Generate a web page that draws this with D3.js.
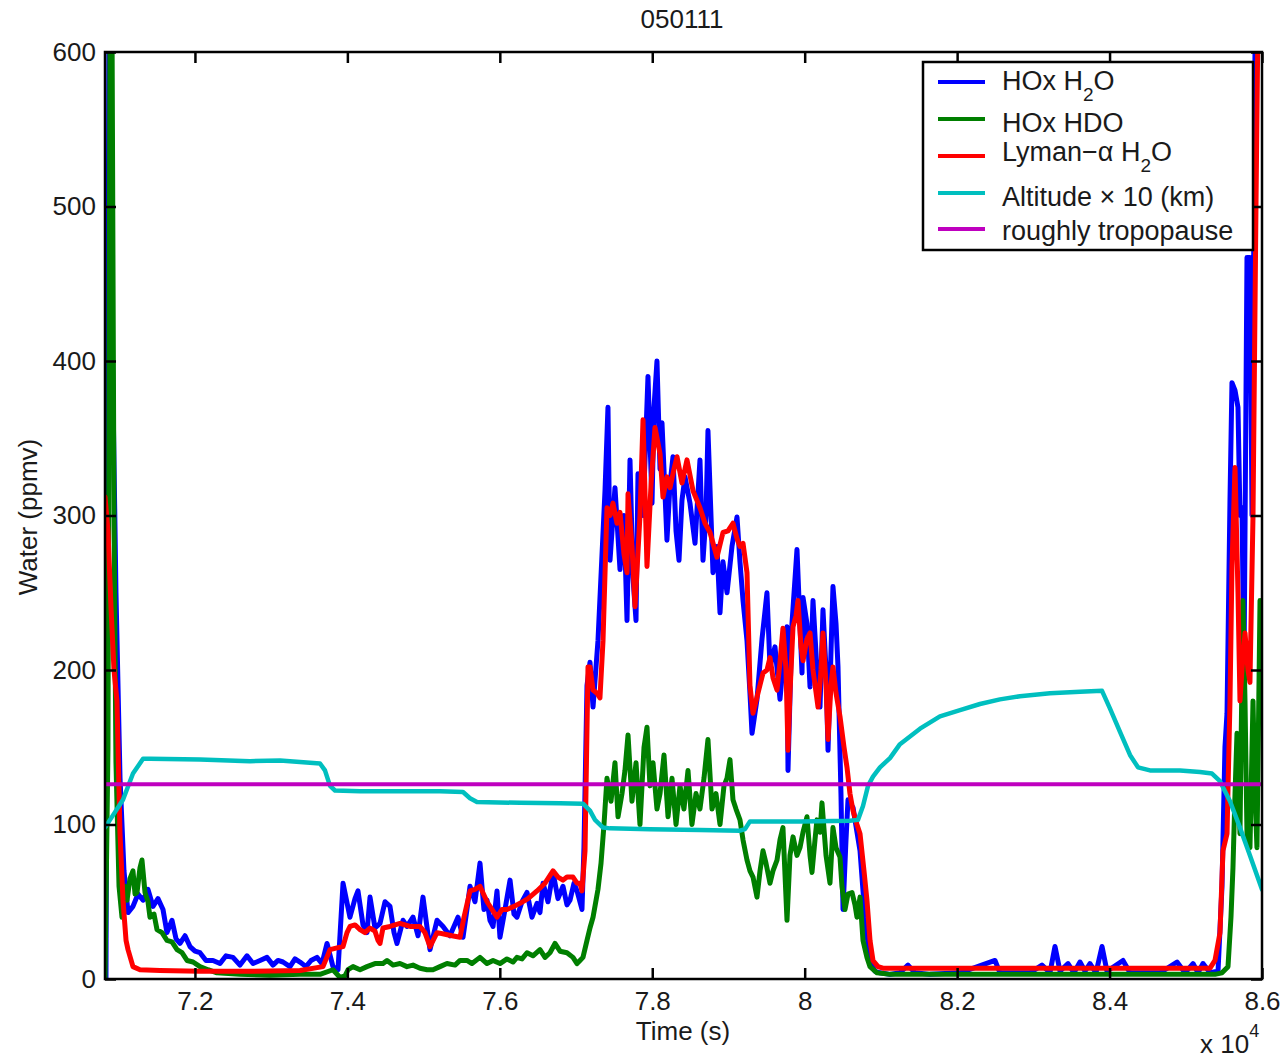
<!DOCTYPE html>
<html><head><meta charset="utf-8">
<script src="https://cdn.jsdelivr.net/npm/d3@7"></script>
<style>
body{margin:0;background:#fff;}
text{font-family:'Liberation Sans',Arial,sans-serif;fill:#1a1a1a;}
</style></head><body>
<svg id="chart" width="1286" height="1058"></svg>
<script>
// ---------------- DATA ----------------
const titleText = "050111";
const xTickValues = [72000,74000,76000,78000,80000,82000,84000,86000];
const xTickLabels = ["7.2","7.4","7.6","7.8","8","8.2","8.4","8.6"];
const yTickValues = [0,100,200,300,400,500,600];
const yTickLabels = ["0","100","200","300","400","500","600"];
const seriesNames = ["HOx H2O","HOx HDO","Lyman-α H2O","Altitude × 10 (km)","roughly tropopause"];
const seriesColors = ["#0000ff","#007f00","#ff0000","#00bfbf","#bf00bf"];

// HOx H2O (blue)
const hoxH2OTime = [70833,70872,70912,70964,71017,71069,71122,71187,71253,71319,71384,71450,71515,71581,71633,71699,71752,71804,71870,71935,72001,72066,72145,72237,72329,72408,72499,72591,72683,72762,72854,72945,73024,73090,73155,73247,73313,73378,73457,73523,73601,73667,73733,73811,73877,73943,74034,74100,74139,74205,74257,74297,74362,74428,74494,74559,74612,74651,74730,74782,74861,74927,74992,75084,75176,75255,75346,75451,75517,75569,75609,75674,75740,75792,75832,75871,75911,75963,76002,76068,76134,76186,76225,76291,76357,76422,76488,76527,76567,76632,76698,76763,76829,76881,76921,76973,77013,77078,77104,77144,77183,77223,77288,77380,77419,77446,77511,77577,77629,77669,77708,77747,77787,77813,77879,77944,77997,78023,78062,78102,78128,78193,78233,78272,78312,78351,78390,78430,78495,78561,78626,78666,78705,78731,78797,78849,78889,78928,78981,79046,79112,79151,79191,79243,79282,79309,79374,79440,79505,79545,79610,79676,79728,79768,79781,79833,79899,79938,79965,79978,80030,80070,80109,80161,80201,80240,80280,80306,80371,80411,80437,80476,80503,80542,80568,80634,80686,80726,80791,80857,80922,80988,81119,81250,81355,81447,81644,82038,82497,82562,82956,83113,83218,83284,83350,83455,83533,83612,83678,83743,83822,83901,83966,84176,84268,84662,84885,84990,85095,85160,85226,85318,85423,85475,85514,85541,85580,85606,85646,85685,85711,85737,85764,85803,85842,85869,85908,85947,86000];
const hoxH2OValue = [0,620,420,250,130,70,43,47,55,51,58,47,52,45,30,38,26,23,28,21,18,17,12,12,10,15,14,9,15,10,12,14,9,12,11,8,13,11,8,12,14,10,23,8,6,62,40,52,57,35,30,53,33,36,50,47,30,23,38,34,40,28,53,19,38,34,28,40,27,45,60,50,75,45,51,38,34,57,27,45,64,42,40,50,56,40,49,43,62,50,69,52,60,48,51,62,57,45,85,190,205,176,219,316,370,271,318,265,300,232,336,260,232,327,300,390,308,370,400,330,360,284,320,338,290,271,310,325,308,282,336,271,300,355,263,280,237,270,250,280,299,270,245,219,185,159,181,220,250,202,215,181,210,228,135,230,278,230,198,247,230,189,245,200,176,239,200,148,254,230,202,120,45,90,116,111,95,83,40,12,5,4,3,4,9,4,3,4,12,4,4,9,4,21,5,10,4,11,5,10,4,21,5,12,4,4,11,4,10,4,10,4,5,60,150,172,310,386,381,370,300,305,200,467,467,300,600,620,620];

// HOx HDO (green)
const hoxHDOTime = [70820,70859,70886,70912,70938,70964,71004,71043,71082,71109,71148,71187,71214,71240,71279,71305,71345,71384,71410,71463,71502,71568,71633,71699,71765,71830,71896,71975,72066,72171,72289,72591,72985,73378,73641,73811,73903,73969,74008,74074,74166,74257,74362,74467,74520,74599,74690,74782,74861,74953,75045,75123,75215,75307,75412,75478,75569,75635,75740,75832,75911,76002,76094,76173,76225,76291,76357,76435,76527,76593,76658,76724,76790,76881,76960,77013,77052,77091,77144,77183,77223,77288,77328,77367,77406,77459,77511,77551,77603,77642,77682,77734,77787,77839,77892,77931,77970,78010,78062,78102,78154,78207,78259,78312,78364,78416,78469,78521,78574,78626,78679,78731,78784,78836,78889,78941,78981,79020,79059,79099,79151,79191,79243,79282,79322,79374,79414,79453,79492,79545,79584,79637,79676,79715,79768,79807,79847,79899,79938,79978,80030,80070,80096,80135,80161,80201,80227,80280,80332,80371,80411,80463,80489,80529,80568,80621,80660,80686,80726,80765,80817,80857,80949,81119,81906,83218,84530,85383,85475,85554,85593,85619,85646,85672,85711,85750,85777,85803,85842,85882,85908,85934,85974,86000];
const hoxHDOValue = [0,150,620,620,300,140,60,40,60,51,65,70,55,56,72,77,56,50,40,42,32,30,25,24,19,17,12,11,8,6,4,3,2.5,3,3,6,1,2,6,8,6,8,10,10,12,9,10,8,9,7,6,6,8,10,9,12,12,10,14,10,12,10,13,11,14,13,17,15,19,14,17,23,18,17,14,10,12,14,25,33,40,58,75,100,130,115,140,105,120,135,158,115,140,100,150,163,125,140,110,120,145,105,130,100,125,110,135,100,120,110,130,155,110,120,100,125,130,142,116,110,103,90,77,70,66,53,70,83,75,62,70,77,90,98,38,80,92,80,85,95,105,80,69,90,103,95,114,80,62,98,85,79,60,45,55,56,48,40,53,25,14,8,4,3,3,3,3,3,4,8,40,72,120,159,94,245,180,94,85,180,120,85,245,240];

// Lyman-alpha H2O (red)
const lymanTime = [70820,70859,70899,70938,70977,71017,71056,71096,71122,71187,71279,71542,72066,72722,73378,73680,73772,73851,73943,73995,74034,74100,74166,74231,74297,74362,74402,74428,74467,74559,74690,74822,74953,75018,75084,75176,75281,75373,75478,75530,75609,75674,75740,75832,75963,76029,76094,76186,76265,76370,76488,76593,76698,76763,76829,76881,76960,77013,77052,77078,77118,77157,77183,77223,77275,77314,77354,77406,77446,77485,77537,77577,77629,77669,77682,77734,77774,77839,77879,77931,77984,78036,78102,78141,78193,78233,78285,78325,78390,78456,78535,78626,78692,78758,78849,78928,78994,79059,79112,79151,79191,79243,79282,79322,79387,79453,79505,79545,79584,79637,79676,79715,79755,79781,79807,79847,79886,79912,79952,79978,80030,80070,80109,80175,80214,80240,80280,80306,80345,80371,80411,80463,80516,80555,80594,80634,80686,80726,80778,80817,80857,80896,80962,81027,81906,83218,84530,85318,85383,85449,85488,85541,85580,85606,85646,85685,85711,85737,85777,85816,85842,85882,85921,85947,86000];
const lymanValue = [312,290,240,200,180,94,51,25,19,8,6,5.5,5,5,5.5,8,19,20,21,30,34,35,32,30,33,31,25,23,33,34,36,34,34,30,21,30,29,28,27,40,57,58,60,50,40,45,45,47,49,52,57,62,70,66,64,66,66,62,62,57,83,202,202,187,185,182,219,305,300,308,295,302,275,263,314,280,241,300,362,267,320,357,340,312,325,318,330,338,321,336,316,305,295,289,273,289,290,295,285,280,282,263,190,172,185,198,200,208,195,187,205,227,200,148,185,228,235,245,215,206,220,224,200,176,200,224,190,155,190,202,185,170,150,137,120,109,100,94,70,51,25,12,8,7,7,7,7,7,12,30,83,94,180,267,331,250,180,200,224,200,192,300,500,620,620];

// Altitude x 10 (km) (cyan)
const altitudeTime = [70820,70951,71056,71187,71319,71410,72066,72722,73116,73378,73641,73706,73772,73838,74166,74690,75215,75517,75609,75700,76265,76790,77091,77183,77249,77354,77446,77970,78626,79151,79217,79282,79938,80594,80699,80765,80831,80896,80988,81119,81250,81513,81775,82038,82300,82562,82825,83218,83612,83901,84006,84137,84268,84373,84530,84924,85186,85344,85449,85580,85711,85842,86000];
const altitudeValue = [98,108,116,133,142.5,142.5,142,141,141.5,140.5,139.5,135,125,122,121.5,121.5,121.5,121,117,114.6,114,113.7,113.5,109,103,98,97.5,97,96.5,96,97,102,102,102.5,103,112,125,131,137,143,152,162,170,174,178,181,183,185,186,186.5,175,160,145,137,135,135,134,133,128,115,98,80,58];

// roughly tropopause (magenta)
const tropopauseTime = [70820,86000];
const tropopauseValue = [126,126];

// ---------------- CHART ----------------
const svg = d3.select("#chart");
const M = {left:105, right:1262, top:52, bottom:979};
const x = d3.scaleLinear().domain([70820,86000]).range([M.left,M.right]);
const y = d3.scaleLinear().domain([0,600]).range([M.bottom,M.top]);
const FONT = 26;

svg.append("defs").append("clipPath").attr("id","clip")
  .append("rect").attr("x",M.left).attr("y",M.top)
  .attr("width",M.right-M.left).attr("height",M.bottom-M.top);

const series = [
  {t:hoxH2OTime, v:hoxH2OValue, c:seriesColors[0], w:5},
  {t:hoxHDOTime, v:hoxHDOValue, c:seriesColors[1], w:5},
  {t:lymanTime, v:lymanValue, c:seriesColors[2], w:5},
  {t:altitudeTime, v:altitudeValue, c:seriesColors[3], w:4.5},
  {t:tropopauseTime, v:tropopauseValue, c:seriesColors[4], w:4}
];
const line = d3.line().x(d=>x(d[0])).y(d=>y(d[1]));
const plot = svg.append("g").attr("clip-path","url(#clip)");
series.forEach(s=>{
  const pts = s.t.map((t,i)=>[t,s.v[i]]);
  plot.append("path").datum(pts).attr("d",line)
    .attr("fill","none").attr("stroke",s.c).attr("stroke-width",s.w)
    .attr("stroke-linejoin","round").attr("stroke-linecap","round");
});

// axes with inward ticks
const fmtX = (d)=>xTickLabels[xTickValues.indexOf(d)];
const fmtY = (d)=>yTickLabels[yTickValues.indexOf(d)];
function styleAxis(g, showText){
  g.select(".domain").remove();
  g.selectAll(".tick line").attr("stroke","#000").attr("stroke-width",2.5);
  g.selectAll("text").attr("font-size",FONT).attr("font-family","'Liberation Sans',Arial,sans-serif").attr("fill","#1a1a1a");
  if(!showText) g.selectAll("text").remove();
}
svg.append("g").attr("transform",`translate(0,${M.bottom})`)
  .call(d3.axisBottom(x).tickValues(xTickValues).tickFormat(fmtX).tickSizeInner(-11).tickSizeOuter(0).tickPadding(13))
  .call(g=>styleAxis(g,true));
svg.append("g").attr("transform",`translate(0,${M.top})`)
  .call(d3.axisTop(x).tickValues(xTickValues).tickSizeInner(-11).tickSizeOuter(0))
  .call(g=>styleAxis(g,false));
svg.append("g").attr("transform",`translate(${M.left},0)`)
  .call(d3.axisLeft(y).tickValues(yTickValues).tickFormat(fmtY).tickSizeInner(-11).tickSizeOuter(0).tickPadding(9))
  .call(g=>styleAxis(g,true));
svg.append("g").attr("transform",`translate(${M.right},0)`)
  .call(d3.axisRight(y).tickValues(yTickValues).tickSizeInner(-11).tickSizeOuter(0))
  .call(g=>styleAxis(g,false));

svg.append("rect").attr("x",M.left).attr("y",M.top)
  .attr("width",M.right-M.left).attr("height",M.bottom-M.top)
  .attr("fill","none").attr("stroke","#000").attr("stroke-width",2.5);

// title, axis labels
svg.append("text").attr("x",682).attr("y",28).attr("text-anchor","middle")
  .attr("font-size",FONT).text(titleText);
svg.append("text").attr("x",683).attr("y",1040).attr("text-anchor","middle")
  .attr("font-size",FONT).text("Time (s)");
svg.append("text").attr("transform","translate(37,517) rotate(-90)")
  .attr("text-anchor","middle").attr("font-size",FONT).text("Water (ppmv)");
const mult = svg.append("text").attr("x",1200).attr("y",1053).attr("font-size",FONT);
mult.append("tspan").text("x 10");
mult.append("tspan").attr("dy",-16).attr("font-size",18).text("4");

// legend
const leg = svg.append("g");
leg.append("rect").attr("x",923).attr("y",62).attr("width",330).attr("height",188)
  .attr("fill","#fff").attr("stroke","#000").attr("stroke-width",2.5);
const legLineY = [82,119,156,193,229];
const legTextY = [90,132,161,206,240];
seriesColors.forEach((c,i)=>{
  leg.append("line").attr("x1",938).attr("x2",985).attr("y1",legLineY[i]).attr("y2",legLineY[i])
    .attr("stroke",c).attr("stroke-width",4);
});
function legText(i, parts){
  const t = leg.append("text").attr("x",1002).attr("y",legTextY[i]).attr("font-size",27);
  parts.forEach(p=>{
    if(p.sub){ t.append("tspan").attr("dy",11).attr("font-size",19).text(p.s); }
    else if(p.back){ t.append("tspan").attr("dy",-11).text(p.s); }
    else t.append("tspan").text(p.s);
  });
}
legText(0,[{s:"HOx H"},{s:"2",sub:true},{s:"O",back:true}]);
legText(1,[{s:"HOx HDO"}]);
legText(2,[{s:"Lyman−α H"},{s:"2",sub:true},{s:"O",back:true}]);
legText(3,[{s:"Altitude × 10 (km)"}]);
legText(4,[{s:"roughly tropopause"}]);
</script>
</body></html>
